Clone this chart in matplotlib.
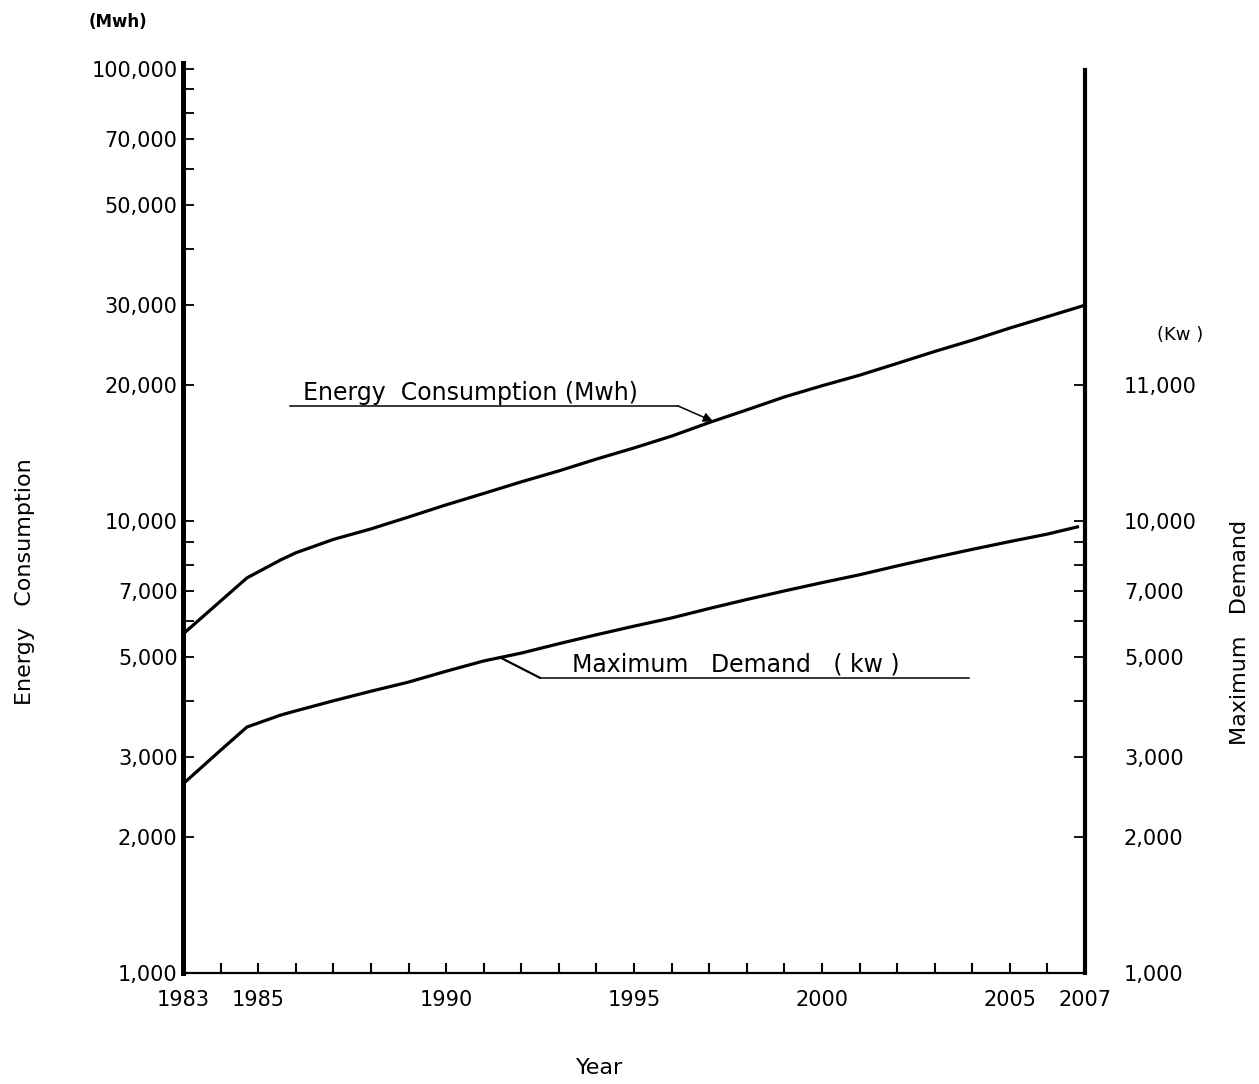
import matplotlib.pyplot as plt
import numpy as np
from matplotlib.ticker import FixedLocator, NullFormatter

plt.rcParams['font.family'] = 'DejaVu Sans'

# data (log scale)
energy_years = [1983, 1984, 1984.7, 1985.6, 1986, 1987, 1988, 1989, 1990, 1991,
                1992, 1993, 1994, 1995, 1996, 1997, 1998, 1999, 2000, 2001,
                2002, 2003, 2004, 2005, 2006, 2007]
energy_mwh = [5620, 6650, 7480, 8200, 8500, 9100, 9600, 10200, 10850, 11500,
              12200, 12900, 13700, 14500, 15400, 16500, 17600, 18800, 19900, 21000,
              22300, 23700, 25100, 26700, 28300, 30000]

demand_years = [1983, 1984, 1984.7, 1985.6, 1986, 1987, 1988, 1989, 1990, 1991,
                1992, 1993, 1994, 1995, 1996, 1997, 1998, 1999, 2000, 2001,
                2002, 2003, 2004, 2005, 2006, 2006.8]
demand_kw = [2620, 3110, 3500, 3720, 3800, 4000, 4200, 4400, 4650, 4900,
             5100, 5350, 5600, 5850, 6100, 6400, 6700, 7000, 7300, 7600,
             7950, 8300, 8650, 9000, 9350, 9700]

tick_years = list(range(1983, 2008))
year_labels = [1983, 1985, 1990, 1995, 2000, 2005, 2007]

left_major = [1000, 2000, 3000, 5000, 7000, 10000, 20000, 30000, 50000, 70000, 100000]
left_labels = ['1,000', '2,000', '3,000', '5,000', '7,000', '10,000',
               '20,000', '30,000', '50,000', '70,000', '100,000']
left_minor = [4000, 6000, 8000, 9000, 40000, 60000, 80000, 90000]

right_major = [1000, 2000, 3000, 5000, 7000, 10000, 20000]
right_labels = ['1,000', '2,000', '3,000', '5,000', '7,000', '10,000', '11,000']
right_minor = [4000, 6000, 8000, 9000]

fig = plt.figure(figsize=(12.59, 10.84), dpi=100)
ax = fig.add_axes([0.1454, 0.1024, 0.7164, 0.8395])
ax.set_yscale('log')
ax.set_ylim(1000, 103000)
ax.set_xlim(1983, 2007)

ax2 = ax.twinx()
ax2.set_yscale('log')
ax2.set_ylim(ax.get_ylim())

ax.plot(energy_years, energy_mwh, color='k', lw=2.3, solid_joinstyle='round')
ax2.plot(demand_years, demand_kw, color='k', lw=2.3, solid_joinstyle='round')

# spines
for s in ['top', 'right']:
    ax.spines[s].set_visible(False)
for s in ['top', 'left', 'bottom']:
    ax2.spines[s].set_visible(False)
ax.spines['left'].set_linewidth(3.6)
ax.spines['bottom'].set_linewidth(1.6)
ax2.spines['right'].set_linewidth(3.0)
ax2.spines['right'].set_bounds(1000, 99500)

# x ticks
ax.set_xticks(year_labels)
ax.set_xticklabels([str(y) for y in year_labels], fontsize=15)
ax.xaxis.set_minor_locator(FixedLocator([y for y in tick_years if y not in year_labels]))
ax.tick_params(axis='x', which='both', direction='in', length=7, width=1.5, pad=12)

# left y ticks
ax.yaxis.set_major_locator(FixedLocator(left_major))
ax.set_yticklabels(left_labels, fontsize=15)
ax.yaxis.set_minor_locator(FixedLocator(left_minor))
ax.yaxis.set_minor_formatter(NullFormatter())
ax.tick_params(axis='y', which='both', direction='in', length=8, width=1.3, pad=4)

# right y ticks
ax2.yaxis.set_major_locator(FixedLocator(right_major))
ax2.set_yticklabels(right_labels, fontsize=15)
ax2.yaxis.set_minor_locator(FixedLocator(right_minor))
ax2.yaxis.set_minor_formatter(NullFormatter())
ax2.tick_params(axis='y', which='both', direction='in', length=8, width=1.3, pad=28)

# axis titles
fig.text(0.02, 0.463, 'Energy   Consumption', rotation=90, ha='center', va='center', fontsize=16)
fig.text(0.985, 0.417, 'Maximum   Demand', rotation=90, ha='center', va='center', fontsize=16)
fig.text(0.4766, 0.015, 'Year', ha='center', va='center', fontsize=16)
fig.text(0.094, 0.98, '(Mwh)', ha='center', va='center', fontsize=12, fontweight='bold')
fig.text(0.937, 0.691, '(Kw )', ha='center', va='center', fontsize=13)

# labels with leader lines
def on_curve(x, xs, ys):
    return np.exp(np.interp(x, xs, np.log(ys)))

ax.text(1986.2, 18530, 'Energy  Consumption (Mwh)', fontsize=17, va='baseline', ha='left')
ax.plot([1985.85, 1996.17], [17960, 17960], color='k', lw=1.1)
ax.annotate('', xy=(1997.1, on_curve(1997.1, energy_years, energy_mwh)), xytext=(1996.17, 17960),
            arrowprops=dict(arrowstyle='-|>', color='k', lw=1.1, mutation_scale=14,
                            shrinkA=0, shrinkB=0))

ax.text(1993.35, 4635, 'Maximum   Demand   ( kw )', fontsize=17, va='baseline', ha='left')
ax.plot([1992.5, 2003.9], [4495, 4495], color='k', lw=1.1)
ax.annotate('', xy=(1991.44, on_curve(1991.44, demand_years, demand_kw)), xytext=(1992.5, 4495),
            arrowprops=dict(arrowstyle='-', color='k', lw=1.6, shrinkA=0, shrinkB=0))

fig.savefig('out.png', dpi=100)
